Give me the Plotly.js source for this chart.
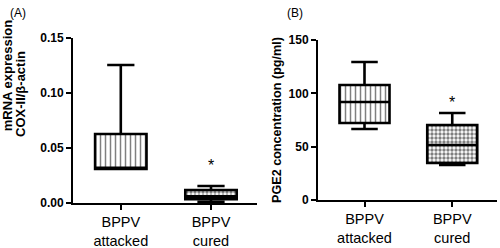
<!DOCTYPE html>
<html><head><meta charset="utf-8">
<script src="https://cdn.plot.ly/plotly-3.0.1.min.js"></script>
<style>html,body{margin:0;padding:0;background:#fff}#c{width:500px;height:248px}</style>
</head><body><div id="c"></div>
<script>
// Categories
const groups = ['BPPV<br>attacked', 'BPPV<br>cured'];
// Panel A: COX-II mRNA expression (box stats)
const a_low = [0.031, 0.0008];
const a_q1 = [0.031, 0.0035];
const a_med = [0.031, 0.006];
const a_q3 = [0.0627, 0.0118];
const a_high = [0.1255, 0.0155];
// Panel B: PGE2 concentration (pg/ml)
const b_low = [66.5, 32.8];
const b_q1 = [72.2, 34.7];
const b_med = [91.9, 51.6];
const b_q3 = [107.8, 70.3];
const b_high = [129.4, 81.6];
// significance markers
const a_star = [null, 0.034];
const b_star = [null, 91];
const patterns = ['|', '.'];
const titleA = ['mRNA expression', 'COX-II/β-actin'];
const titleB = 'PGE2 concentration (pg/ml)';

const BW = 0.57;
function boxTrace(lo, q1, med, q3, hi, xa, ya) {
  return {type:'box', x: groups, lowerfence: lo, q1: q1, median: med, q3: q3, upperfence: hi,
    xaxis: xa, yaxis: ya, width: BW, whiskerwidth: 0.53, boxpoints: false,
    fillcolor: 'rgba(0,0,0,0)', line: {color: '#000', width: 2.6}, hoverinfo: 'skip', showlegend: false};
}
function barTrace(q1, q3, xa, ya) {
  return {type:'bar', x: groups, base: q1, y: q3.map((v,i)=>v-q1[i]), width: BW,
    xaxis: xa, yaxis: ya, hoverinfo: 'skip', showlegend: false,
    marker: {color: '#fff', line: {width: 0},
      pattern: {shape: patterns, fgcolor: '#000', bgcolor: '#fff', size: [5, 4], solidity: [0.3, 0.55], fillmode: 'overlay'}}};
}
const data = [
  barTrace(a_q1, a_q3, 'x', 'y'),
  boxTrace(a_low, a_q1, a_med, a_q3, a_high, 'x', 'y'),
  barTrace(b_q1, b_q3, 'x2', 'y2'),
  boxTrace(b_low, b_q1, b_med, b_q3, b_high, 'x2', 'y2'),
  {type: 'scatter', x: [], y: [], xaxis: 'x', yaxis: 'y3', hoverinfo: 'skip', showlegend: false},
  {type: 'scatter', x: [], y: [], xaxis: 'x', yaxis: 'y4', hoverinfo: 'skip', showlegend: false}
];
const F = 'Liberation Sans, Arial, sans-serif';
const xax = (dom, anchor) => ({domain: dom, anchor: anchor, type: 'category', range: [-0.53, 1.51],
  showline: true, linewidth: 2, linecolor: '#000', ticks: 'outside', ticklen: 5, tickwidth: 2, tickcolor: '#000',
  showgrid: false, zeroline: false, tickfont: {family: F, size: 14.5, color: '#000'}, fixedrange: true});
const yax = (dom, anchor, range, dtick, fmt) => ({domain: dom, anchor: anchor, range: range, dtick: dtick, tick0: 0,
  tickformat: fmt, showline: true, linewidth: 2, linecolor: '#000', ticks: 'outside', ticklen: 5, tickwidth: 2,
  tickcolor: '#000', showgrid: false, zeroline: false,
  tickfont: {family: F, size: 12, color: '#000', weight: 'bold'}, fixedrange: true});
const titleFont = {family: F, size: 13, color: '#000', weight: 'bold'};
const dummy = (dom, pos, text) => ({domain: dom, anchor: 'free', position: pos, range: [0, 1],
  showline: false, showticklabels: false, ticks: '', showgrid: false, zeroline: false, fixedrange: true,
  title: {text: text, standoff: 0, font: titleFont}});
const yB = yax([0.1935, 0.8387], 'x2', [0, 150], 50, 'd');
yB.title = {text: titleB, standoff: 4, font: {family: F, size: 12.6, color: '#000', weight: 'bold'}};
const layout = {
  width: 500, height: 248, margin: {l: 0, r: 0, t: 0, b: 0},
  paper_bgcolor: '#fff', plot_bgcolor: 'rgba(0,0,0,0)', showlegend: false,
  xaxis: xax([0.146, 0.514], 'y'),
  yaxis: yax([0.1815, 0.8468], 'x', [0, 0.15], 0.05, '.2f'),
  xaxis2: xax([0.636, 0.994], 'y2'),
  yaxis2: yB,
  yaxis3: dummy([1 - 133/248, 1 - 18/248], 15/500, titleA[0]),
  yaxis4: dummy([1 - 133/248, 1 - 55/248], 30/500, titleA[1]),
  annotations: [
    {text: '(A)', xref: 'paper', yref: 'paper', x: 8/500, y: 1 - 4/248, xanchor: 'left', yanchor: 'top', showarrow: false, font: {family: F, size: 12, color: '#000'}},
    {text: '(B)', xref: 'paper', yref: 'paper', x: 285/500, y: 1 - 4/248, xanchor: 'left', yanchor: 'top', showarrow: false, font: {family: F, size: 12, color: '#000'}},
    {text: '*', xref: 'x', yref: 'y', x: groups[1], y: a_star[1], showarrow: false, font: {family: F, size: 16, color: '#000'}},
    {text: '*', xref: 'x2', yref: 'y2', x: groups[1], y: b_star[1], showarrow: false, font: {family: F, size: 16, color: '#000'}}
  ]
};
Plotly.newPlot('c', data, layout, {displayModeBar: false});
</script></body></html>
